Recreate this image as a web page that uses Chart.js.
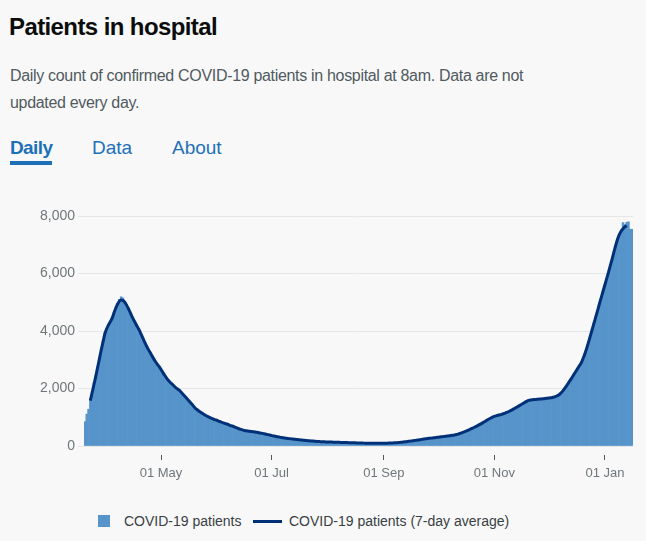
<!DOCTYPE html>
<html>
<head>
<meta charset="utf-8">
<title>Patients in hospital</title>
<script src="https://cdn.jsdelivr.net/npm/chart.js@4"></script>
<style>
  body { margin: 0; background: #f8f8f8; font-family: "Liberation Sans", Arial, sans-serif; }
  .page { position: relative; width: 646px; height: 541px; overflow: hidden; }
  .title { position: absolute; left: 9px; top: 12px; font-size: 24px; line-height: 30px; font-weight: bold; color: #0b0c0c; letter-spacing: -0.6px; }
  .desc { position: absolute; left: 10px; top: 62px; font-size: 16px; line-height: 27px; color: #505a5f; letter-spacing: -0.32px; }
  .tab { position: absolute; top: 136px; font-size: 19px; line-height: 24px; color: #1d70b8; }
  .tab.active { font-weight: bold; letter-spacing: -0.6px; }
  .underline { position: absolute; left: 10px; top: 161px; width: 42px; height: 4px; background: #1d70b8; }
  .chartBox { position: absolute; left: 0; top: 190px; width: 646px; height: 300px; }
  .legend { position: absolute; top: 512px; left: 0; font-size: 14px; line-height: 18px; color: #383f43; }
  .legend span { position: absolute; white-space: nowrap; }
</style>
</head>
<body>
<div class="page">
  <div class="title">Patients in hospital</div>
  <div class="desc">Daily count of confirmed COVID-19 patients in hospital at 8am. Data are not<br>updated every day.</div>
  <div class="tab active" style="left:10px">Daily</div>
  <div class="tab" style="left:92px">Data</div>
  <div class="tab" style="left:172px">About</div>
  <div class="underline"></div>
  <div class="chartBox"><canvas id="grafico"></canvas></div>
  <div class="legend">
    <span style="left:98px;top:3px;width:12px;height:12px;background:#5694ca"></span>
    <span style="left:124px;top:0">COVID-19 patients</span>
    <span style="left:253px;top:8px;width:29px;height:3px;background:#003078"></span>
    <span style="left:289px;top:0">COVID-19 patients (7-day average)</span>
  </div>
</div>
<script>
// primer día de la serie: 20 Mar 2020, 303 días
const fechaInicio = Date.UTC(2020, 2, 20);
const numDias = 303;
const meses = ['Jan', 'Feb', 'Mar', 'Apr', 'May', 'Jun', 'Jul', 'Aug', 'Sep', 'Oct', 'Nov', 'Dec'];
const etiquetasEje = ['01 May', '01 Jul', '01 Sep', '01 Nov', '01 Jan'];
const valoresEjeY = [0, 2000, 4000, 6000, 8000];

// pacientes por día
const pacientesDiarios = [
  845, 1110, 1280, 1650, 1900, 2200, 2450, 2750, 3050, 3350,
  3650, 3950, 4060, 4180, 4330, 4450, 4640, 4800, 4960, 5100,
  5190, 5150, 5020, 4920, 4800, 4660, 4510, 4390, 4270, 4150,
  4020, 3880, 3760, 3610, 3480, 3360, 3240, 3150, 3030, 2920,
  2850, 2760, 2650, 2560, 2470, 2370, 2280, 2220, 2170, 2100,
  2040, 1990, 1930, 1880, 1800, 1740, 1680, 1600, 1520, 1460,
  1390, 1310, 1260, 1200, 1170, 1140, 1090, 1050, 1020, 990,
  960, 935, 910, 885, 860, 840, 815, 790, 765, 750,
  725, 700, 675, 650, 630, 600, 585, 560, 540, 530,
  520, 512, 505, 495, 485, 472, 460, 450, 438, 425,
  412, 395, 382, 365, 350, 338, 325, 312, 300, 290,
  280, 270, 262, 255, 246, 240, 232, 225, 218, 210,
  205, 198, 192, 186, 180, 175, 170, 165, 160, 156,
  152, 148, 145, 142, 140, 138, 136, 134, 132, 130,
  128, 126, 124, 122, 120, 118, 116, 114, 112, 110,
  108, 106, 104, 102, 100, 99, 98, 97, 96, 95,
  94, 93, 93, 94, 95, 96, 98, 100, 102, 105,
  108, 112, 116, 120, 126, 132, 140, 148, 156, 165,
  174, 183, 192, 200, 210, 220, 230, 240, 250, 258,
  266, 274, 282, 290, 298, 306, 314, 322, 330, 338,
  346, 355, 364, 374, 385, 398, 415, 435, 458, 482,
  508, 535, 563, 592, 622, 652, 684, 717, 752, 788,
  826, 864, 902, 940, 975, 1005, 1030, 1050, 1068, 1085,
  1102, 1122, 1145, 1172, 1200, 1232, 1266, 1302, 1338, 1375,
  1412, 1450, 1488, 1525, 1560, 1585, 1600, 1608, 1615, 1620,
  1626, 1632, 1638, 1645, 1652, 1660, 1668, 1678, 1690, 1705,
  1725, 1755, 1800, 1860, 1935, 2020, 2110, 2205, 2300, 2400,
  2500, 2600, 2700, 2800, 2900, 3050, 3220, 3410, 3620, 3840,
  4060, 4280, 4500, 4720, 4950, 5170, 5390, 5610, 5830, 6050,
  6280, 6510, 6750, 6990, 7200, 7380, 7500, 7770, 7700, 7780,
  7800, 7540, 7540
];

// media de 7 días (centrada, sin valor en los 3 primeros y 3 últimos días)
const mediaSemanal = [
  null, null, null, 1580, 1860, 2140, 2420, 2730, 3030, 3340,
  3620, 3900, 4080, 4210, 4320, 4440, 4620, 4790, 4930, 5040,
  5080, 5060, 5000, 4900, 4780, 4640, 4500, 4380, 4260, 4140,
  4030, 3890, 3750, 3610, 3480, 3360, 3250, 3140, 3030, 2930,
  2840, 2760, 2660, 2560, 2460, 2370, 2290, 2220, 2160, 2100,
  2040, 1990, 1940, 1880, 1810, 1740, 1670, 1600, 1530, 1460,
  1380, 1310, 1260, 1210, 1170, 1130, 1090, 1050, 1020, 990,
  960, 930, 910, 890, 860, 840, 810, 790, 770, 750,
  720, 700, 680, 650, 630, 600, 580, 560, 540, 530,
  520, 510, 505, 495, 485, 475, 460, 450, 440, 425,
  410, 395, 380, 365, 350, 340, 325, 315, 300, 290,
  280, 270, 262, 255, 248, 240, 232, 225, 218, 212,
  205, 198, 192, 186, 180, 175, 170, 165, 160, 156,
  152, 148, 145, 142, 140, 138, 136, 134, 132, 130,
  128, 126, 124, 122, 120, 118, 116, 114, 112, 110,
  108, 106, 104, 102, 100, 99, 98, 97, 96, 95,
  94, 93, 93, 94, 95, 96, 98, 100, 102, 105,
  108, 112, 116, 120, 126, 132, 140, 148, 156, 165,
  174, 183, 192, 200, 210, 220, 230, 240, 250, 258,
  266, 274, 282, 290, 298, 306, 314, 322, 330, 338,
  346, 355, 364, 374, 385, 398, 415, 435, 458, 482,
  508, 535, 563, 592, 622, 652, 684, 717, 752, 788,
  826, 864, 902, 940, 975, 1005, 1030, 1050, 1068, 1085,
  1102, 1122, 1145, 1172, 1200, 1232, 1266, 1302, 1338, 1375,
  1412, 1450, 1488, 1525, 1560, 1585, 1600, 1608, 1615, 1620,
  1626, 1632, 1638, 1645, 1652, 1660, 1668, 1678, 1690, 1705,
  1725, 1755, 1800, 1860, 1935, 2020, 2110, 2205, 2300, 2400,
  2500, 2600, 2700, 2800, 2900, 3050, 3220, 3410, 3620, 3840,
  4060, 4280, 4500, 4720, 4950, 5170, 5390, 5610, 5830, 6050,
  6280, 6510, 6750, 6990, 7200, 7360, 7480, 7560, 7620, 7670,
  null, null, null
];

const fechas = [];
for (let i = 0; i < numDias; i++) {
  const d = new Date(fechaInicio + i * 86400000);
  fechas.push(String(d.getUTCDate()).padStart(2, '0') + ' ' + meses[d.getUTCMonth()]);
}

Chart.defaults.font.family = "'Liberation Sans', Arial, sans-serif";

const ctx = document.getElementById('grafico').getContext('2d');
new Chart(ctx, {
  type: 'bar',
  data: {
    labels: fechas,
    datasets: [
      {
        type: 'line',
        label: 'COVID-19 patients (7-day average)',
        data: mediaSemanal,
        borderColor: '#003078',
        borderWidth: 3,
        pointRadius: 0,
        fill: false,
        cubicInterpolationMode: 'monotone',
        order: 0
      },
      {
        label: 'COVID-19 patients',
        data: pacientesDiarios,
        backgroundColor: '#5694ca',
        borderWidth: 0,
        barPercentage: 1,
        categoryPercentage: 1,
        order: 1
      }
    ]
  },
  options: {
    responsive: true,
    maintainAspectRatio: false,
    animation: false,
    layout: { padding: { top: 26, right: 13, left: 0, bottom: 0 } },
    plugins: { legend: { display: false }, tooltip: { enabled: false } },
    scales: {
      x: {
        type: 'category',
        offset: true,
        border: { display: false },
        grid: {
          offset: false,
          drawOnChartArea: false,
          tickLength: 15,
          tickColor: '#505a5f',
          tickBorderDash: [0, 9, 5, 100]
        },
        ticks: {
          autoSkip: false,
          maxRotation: 0,
          padding: 5,
          color: '#6f777b',
          font: { size: 13 }
        },
        afterBuildTicks: (scale) => {
          scale.ticks = scale.ticks.filter(t => etiquetasEje.includes(fechas[t.value]));
        },
        afterFit: (scale) => { scale.height = 44; }
      },
      y: {
        min: 0,
        max: 8000,
        border: { display: false },
        grid: { color: '#e6e6e6', tickLength: 6 },
        ticks: {
          padding: 3,
          color: '#6f777b',
          font: { size: 14 },
          callback: (v) => v.toLocaleString('en-GB')
        },
        afterBuildTicks: (scale) => {
          scale.ticks = valoresEjeY.map(v => ({ value: v }));
        },
        afterFit: (scale) => { scale.width = 84; }
      }
    }
  }
});
</script>
</body>
</html>
